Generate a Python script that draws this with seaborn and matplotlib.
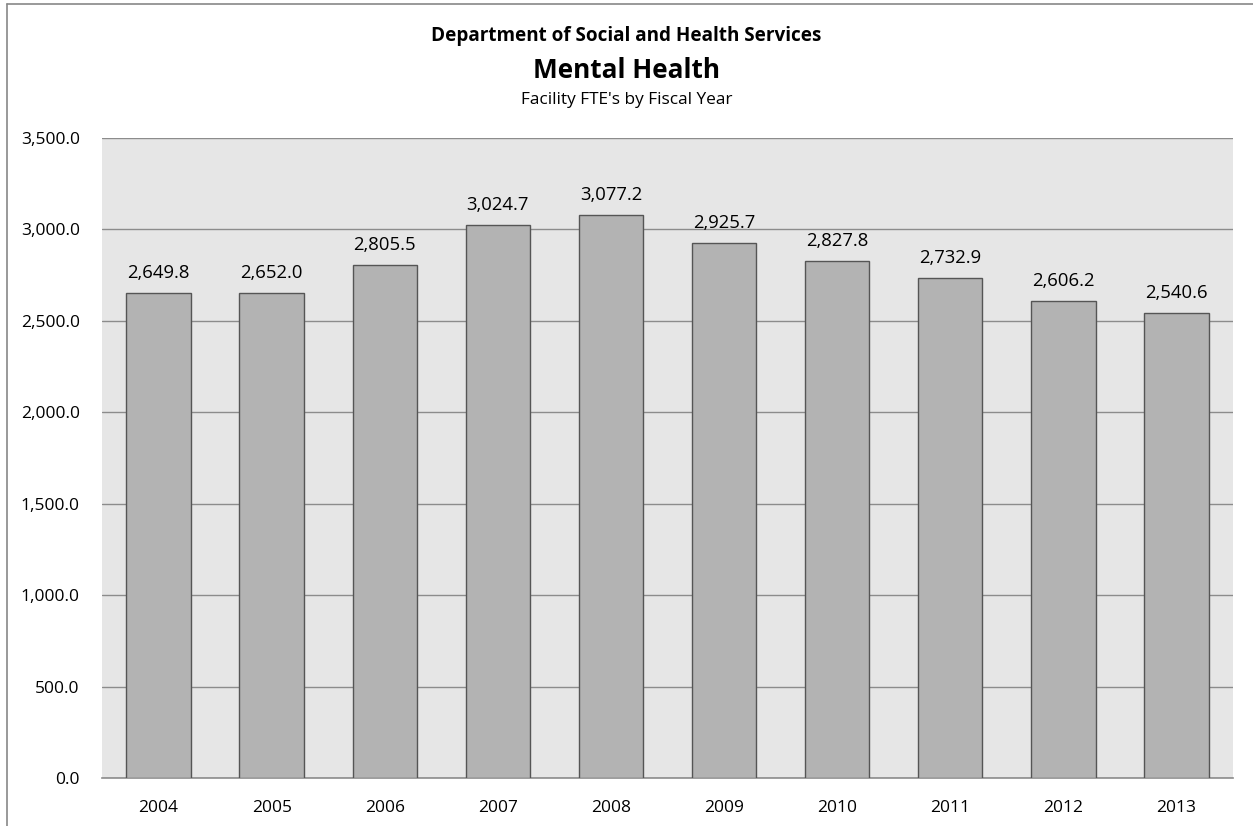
import matplotlib
matplotlib.use("Agg")
import matplotlib.pyplot as plt
import seaborn as sns
import pandas as pd
from matplotlib.ticker import FuncFormatter, MultipleLocator
from matplotlib.lines import Line2D

years = ["2004", "2005", "2006", "2007", "2008", "2009", "2010", "2011", "2012", "2013"]
fte = [2649.8, 2652.0, 2805.5, 3024.7, 3077.2, 2925.7, 2827.8, 2732.9, 2606.2, 2540.6]

title1 = "Department of Social and Health Services"
title2 = "Mental Health"
title3 = "Facility FTE's by Fiscal Year"

sns.set_theme(style="white")
plt.rcParams['font.family'] = ['Open Sans', 'DejaVu Sans']

df = pd.DataFrame({"year": years, "fte": fte})

fig = plt.figure(figsize=(12.53, 8.26), dpi=100)
ax = fig.add_axes([102/1253, 1 - 778/826, (1233-102)/1253, (778-138)/826])
ax.set_facecolor("#e6e6e6")

sns.barplot(data=df, x="year", y="fte", color="#b3b3b3", width=0.57,
            edgecolor="#555555", linewidth=1.0, saturation=1, ax=ax, zorder=3)

ax.set_ylim(0, 3500)
ax.set_xlim(-0.5, len(years) - 0.5)
ax.yaxis.set_major_locator(MultipleLocator(500))
ax.yaxis.set_major_formatter(FuncFormatter(lambda v, p: f"{v:,.1f}"))
ax.grid(axis="y", color="#8c8c8c", linewidth=1.0, zorder=1)
ax.set_axisbelow(True)
for s in ["top", "right", "left"]:
    ax.spines[s].set_visible(False)
ax.spines["bottom"].set_color("#8c8c8c")
ax.spines["bottom"].set_linewidth(1.2)
ax.set_xlabel("")
ax.set_ylabel("")
ax.tick_params(axis="both", length=0, labelsize=12.5, colors="black")
ax.tick_params(axis="x", pad=16)
ax.tick_params(axis="y", pad=16)

for i, v in enumerate(fte):
    ax.annotate(f"{v:,.1f}", (i, v), xytext=(0, 8), textcoords="offset points",
                ha="center", va="bottom", fontsize=13.3, color="black")

fig.text(0.5, 1 - 36/826, title1, ha="center", va="center", fontsize=13.6,
         fontweight="bold", color="black")
fig.text(0.5, 1 - 70/826, title2, ha="center", va="center", fontsize=18.8,
         fontweight="bold", color="black")
fig.text(0.5, 1 - 100/826, title3, ha="center", va="center", fontsize=12.4,
         color="black")

# outer chart frame (left and top)
fig.add_artist(Line2D([7/1253, 7/1253], [0, 1 - 4/826], transform=fig.transFigure, color="#888888", linewidth=1.2))
fig.add_artist(Line2D([7/1253, 1], [1 - 4/826, 1 - 4/826], transform=fig.transFigure, color="#888888", linewidth=1.2))

fig.savefig("out.png", dpi=100)
